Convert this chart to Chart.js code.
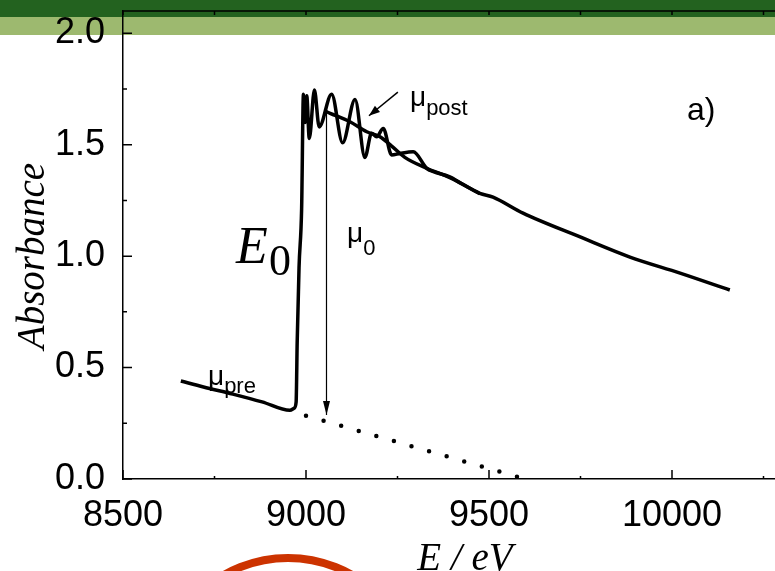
<!DOCTYPE html>
<html>
<head>
<meta charset="utf-8">
<script src="https://cdn.jsdelivr.net/npm/chart.js@4.4.0/dist/chart.umd.min.js"></script>
<style>
  html, body { margin: 0; padding: 0; width: 775px; height: 571px; overflow: hidden; background: #fff; }
  .pita1 { position: absolute; left: 0; top: 0; width: 775px; height: 17px; background: #23621f; }
  .pita2 { position: absolute; left: 0; top: 17px; width: 775px; height: 18px; background: #9db96f; }
  #diagramXAS { position: absolute; left: 0; top: 0; }
</style>
</head>
<body>
<div class="pita1"></div>
<div class="pita2"></div>
<canvas id="diagramXAS" width="860" height="571"></canvas>
<script>
// data spektrum
const energiSpektrum = [8658, 8720, 8800, 8880, 8956, 8968, 8973, 8976, 8981, 8988, 8993, 8998, 9002,
  9009, 9023, 9036, 9070, 9100, 9134, 9161, 9179, 9193, 9211, 9234, 9257, 9293, 9330, 9348,
  9393, 9420, 9475, 9511, 9593, 9749, 9885, 10022, 10158];
const absorbansiSpektrum = [0.440, 0.413, 0.381, 0.346, 0.308, 0.318, 0.345, 0.62, 0.95, 1.21, 1.727, 1.60, 1.72,
  1.528, 1.745, 1.58, 1.727, 1.509, 1.703, 1.443, 1.551, 1.536, 1.573, 1.454, 1.461, 1.468, 1.394, 1.379,
  1.356, 1.330, 1.282, 1.265, 1.193, 1.086, 0.996, 0.924, 0.848];

// garis mu_post (latar setelah tepi)
const energiPost = [9056, 9066, 9120, 9166, 9202, 9234, 9270, 9330, 9393, 9475];
const absorbansiPost = [1.648, 1.641, 1.603, 1.558, 1.536, 1.494, 1.443, 1.394, 1.352, 1.280];

// ekstrapolasi mu_pre (titik-titik)
const energiPre = [9000, 9577];
const absorbansiPre = [0.284, 0.010];

// panah mu_0 dan panah mu_post
const energiPanahMu0 = [9056, 9056];
const absorbansiPanahMu0 = [1.68, 0.287];
const energiPanahPost = [9251, 9172];
const absorbansiPanahPost = [1.736, 1.630];

// label sumbu
const tickX = [8500, 9000, 9500, 10000];
const tickY = [0, 0.5, 1.0, 1.5, 2.0];
const tickXKecil = [8750, 9250, 9750, 10250];
const tickYKecil = [0.25, 0.75, 1.25, 1.75];

const gabung = (xs, ys) => xs.map((v, i) => ({ x: v, y: ys[i] }));

const fontSans = "'Liberation Sans', Arial, sans-serif";
const fontSerif = "'Liberation Serif', 'Times New Roman', serif";

function kepalaPanah(ctx, a, b, panjang, lebar) {
  const sudut = Math.atan2(b.y - a.y, b.x - a.x);
  ctx.save();
  ctx.translate(b.x, b.y);
  ctx.rotate(sudut);
  ctx.beginPath();
  ctx.moveTo(0, 0);
  ctx.lineTo(-panjang, -lebar);
  ctx.lineTo(-panjang, lebar);
  ctx.closePath();
  ctx.fill();
  ctx.restore();
}

function teksSub(ctx, utama, sub, x, y, ukuran, ukuranSub, geser) {
  ctx.font = ukuran + "px " + fontSans;
  ctx.fillText(utama, x, y);
  const w = ctx.measureText(utama).width;
  ctx.font = ukuranSub + "px " + fontSans;
  ctx.fillText(sub, x + w, y + geser);
}

const hiasan = {
  id: 'hiasan',
  afterDatasetsDraw(chart) {
    const { ctx, chartArea: ca, scales: { x, y } } = chart;
    ctx.save();
    ctx.strokeStyle = '#000';
    ctx.fillStyle = '#000';
    ctx.lineWidth = 1.5;

    // garis bingkai atas
    ctx.beginPath();
    ctx.moveTo(ca.left, ca.top);
    ctx.lineTo(ca.right, ca.top);
    ctx.stroke();

    // tick ke dalam
    ctx.beginPath();
    tickX.forEach(v => {
      const px = x.getPixelForValue(v);
      ctx.moveTo(px, ca.bottom); ctx.lineTo(px, ca.bottom - 9);
    });
    tickXKecil.forEach(v => {
      const px = x.getPixelForValue(v);
      ctx.moveTo(px, ca.bottom); ctx.lineTo(px, ca.bottom - 3);
    });
    tickX.concat(tickXKecil).forEach(v => {
      const px = x.getPixelForValue(v);
      ctx.moveTo(px, ca.top); ctx.lineTo(px, ca.top + 4);
    });
    tickY.forEach(v => {
      const py = y.getPixelForValue(v);
      ctx.moveTo(ca.left, py); ctx.lineTo(ca.left + 9, py);
    });
    tickYKecil.forEach(v => {
      const py = y.getPixelForValue(v);
      ctx.moveTo(ca.left, py); ctx.lineTo(ca.left + 4, py);
    });
    ctx.stroke();

    // kepala panah
    const m0 = chart.getDatasetMeta(3).data;
    kepalaPanah(ctx, m0[0], m0[1], 14, 3.5);
    const mp = chart.getDatasetMeta(4).data;
    kepalaPanah(ctx, mp[0], mp[1], 11, 4);
    ctx.restore();
  },
  afterDraw(chart) {
    const ctx = chart.ctx;
    ctx.save();
    ctx.fillStyle = '#000';
    ctx.textBaseline = 'alphabetic';
    ctx.textAlign = 'left';

    teksSub(ctx, 'μ', 'post', 410, 106, 28, 22, 9);
    teksSub(ctx, 'μ', 'pre', 208, 385, 28, 22, 8);
    teksSub(ctx, 'μ', '0', 347, 242, 28, 22, 13);

    ctx.font = "italic 52px " + fontSerif;
    ctx.fillText('E', 236, 263);
    ctx.font = "44px " + fontSerif;
    ctx.fillText('0', 269, 275);

    ctx.font = "32px " + fontSans;
    ctx.fillText('a)', 687, 120);

    // judul sumbu
    ctx.font = "italic 39px " + fontSerif;
    ctx.textAlign = 'center';
    ctx.fillText('E / eV', 465, 570);
    ctx.save();
    ctx.translate(44, 256);
    ctx.rotate(-Math.PI / 2);
    ctx.fillText('Absorbance', 0, 0);
    ctx.restore();

    // lingkaran merah di bawah
    ctx.strokeStyle = '#cc3300';
    ctx.lineWidth = 8;
    ctx.beginPath();
    ctx.arc(288, 687, 129, Math.PI, 2 * Math.PI);
    ctx.stroke();
    ctx.restore();
  }
};

const ctx = document.getElementById('diagramXAS').getContext('2d');

new Chart(ctx, {
  type: 'line',
  data: {
    datasets: [
      {
        label: 'Spektrum',
        data: gabung(energiSpektrum, absorbansiSpektrum),
        borderColor: '#000',
        borderWidth: 3.5,
        cubicInterpolationMode: 'monotone'
      },
      {
        label: 'mu_post',
        data: gabung(energiPost, absorbansiPost),
        borderColor: '#000',
        borderWidth: 3.5,
        cubicInterpolationMode: 'monotone'
      },
      {
        label: 'mu_pre',
        data: gabung(energiPre, absorbansiPre),
        borderColor: '#000',
        borderWidth: 4.5,
        borderDash: [0, 18.3],
        borderCapStyle: 'round'
      },
      {
        label: 'panah mu0',
        data: gabung(energiPanahMu0, absorbansiPanahMu0),
        borderColor: '#000',
        borderWidth: 1.2
      },
      {
        label: 'panah post',
        data: gabung(energiPanahPost, absorbansiPanahPost),
        borderColor: '#000',
        borderWidth: 1.5
      }
    ]
  },
  options: {
    responsive: false,
    animation: false,
    devicePixelRatio: 1,
    layout: { padding: { top: 11, right: 5, left: 0, bottom: 0 } },
    elements: { point: { radius: 0 } },
    plugins: {
      legend: { display: false },
      tooltip: { enabled: false }
    },
    scales: {
      x: {
        type: 'linear',
        min: 8500,
        max: 10500,
        afterBuildTicks: s => { s.ticks = tickX.map(v => ({ value: v })); },
        afterFit: s => { s.height = 92; s.paddingLeft = 0; s.paddingRight = 0; },
        grid: { display: false },
        border: { display: true, color: '#000', width: 1.5 },
        ticks: {
          color: '#000',
          font: { family: fontSans, size: 36 },
          padding: 7,
          maxRotation: 0,
          autoSkip: false,
          callback: v => String(v)
        }
      },
      y: {
        min: 0,
        max: 2.1,
        afterBuildTicks: s => { s.ticks = tickY.map(v => ({ value: v })); },
        afterFit: s => { s.width = 123; s.paddingTop = 0; s.paddingBottom = 0; },
        grid: { display: false },
        border: { display: true, color: '#000', width: 1.5 },
        ticks: {
          color: '#000',
          font: { family: fontSans, size: 36 },
          padding: 10,
          callback: v => v.toFixed(1)
        }
      }
    }
  },
  plugins: [hiasan]
});
</script>
</body>
</html>
